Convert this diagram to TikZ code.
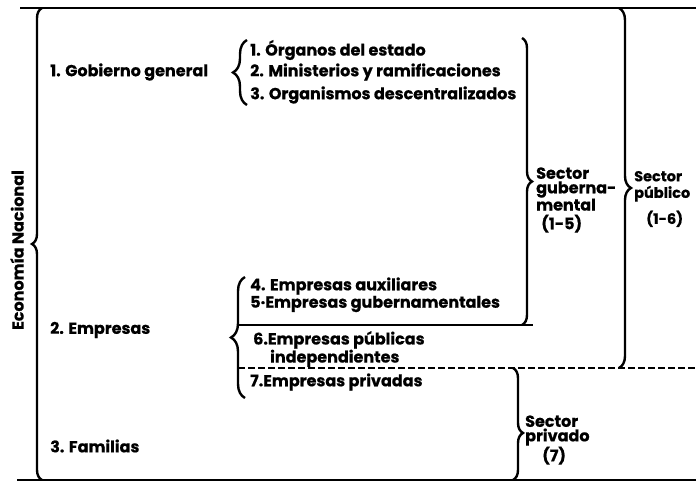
\documentclass[tikz,border=0pt]{standalone}
\usepackage{fontspec}
\setmainfont{Poppins}[BoldFeatures={FakeBold=0.6}]
\usetikzlibrary{decorations.pathreplacing}
\begin{document}
\begin{tikzpicture}[x=1pt,y=-1pt,
  lbl/.style={font=\bfseries\fontsize{16}{14.5}\selectfont, inner sep=0pt, anchor=west},
  brc/.style={decorate, decoration={brace, amplitude=#1}, line width=2.4pt},
  rule/.style={line width=2.6pt},
  dashrule/.style={line width=2.6pt, dash pattern=on 7pt off 3pt}]
\useasboundingbox (0,0) rectangle (696,482);
% frame lines
\coordinate (tl) at (20,8);   \coordinate (tr) at (696,8);
\coordinate (bl) at (17,480); \coordinate (br) at (696,480);
\draw[rule] (tl) -- (tr);
\draw[rule] (bl) -- (br);
% Economia nacional
\coordinate (lbB) at (42,480); \coordinate (lbT) at (42,8);
\draw[brc=10] (lbB) -- (lbT);
\node[lbl, anchor=center, rotate=90] (eco) at (17,250) {Economía Nacional};
% Gobierno general
\node[lbl] (gob) at (50,72) {1. Gobierno general};
\coordinate (gbB) at (247,105); \coordinate (gbT) at (247,40);
\draw[brc=14] (gbB) -- (gbT);
\node[lbl] (g1) at (250,50) {1. Órganos del estado};
\node[lbl] (g2) at (250,72) {2. Ministerios y ramificaciones};
\node[lbl] (g3) at (250,95) {3. Organismos descentralizados};
% Empresas
\node[lbl] (emp) at (50,330) {2. Empresas};
\coordinate (ebB) at (245,398); \coordinate (ebT) at (245,277);
\draw[brc=14] (ebB) -- (ebT);
\node[lbl] (e4) at (250,286) {4. Empresas auxiliares};
\node[lbl] (e5) at (250,304) {5·Empresas gubernamentales};
\node[lbl, align=left] (e6) at (253,349) {6.Empresas públicas\\\hspace*{17pt}independientes};
\node[lbl] (e7) at (250,382) {7.Empresas privadas};
\coordinate (solA) at (238,325); \coordinate (solB) at (533,325);
\draw[rule] (solA) -- (solB);
\coordinate (dasA) at (238,368); \coordinate (dasB) at (696,368);
\draw[dashrule] (dasA) -- (dasB);
% Familias
\node[lbl] (fam) at (50,446) {3. Familias};
% Sector gubernamental
\coordinate (sgT) at (522,38); \coordinate (sgB) at (522,325);
\draw[brc=10] (sgT) -- (sgB);
\node[lbl, align=left] (sg) at (536,200) {Sector\\guberna-\\mental\\[3pt]\hspace*{5pt}(1-5)};
% Sector publico
\coordinate (spT) at (619,8); \coordinate (spB) at (619,368);
\draw[brc=12] (spT) -- (spB);
\node[lbl, align=left, font=\bfseries\fontsize{14.5}{14.5}\selectfont] (sp) at (634,199) {Sector\\[2pt]público\\[8pt]\hspace*{12pt}(1-6)};
% Sector privado
\coordinate (prT) at (513,368); \coordinate (prB) at (513,480);
\draw[brc=10, decoration={aspect=0.58}] (prT) -- (prB);
\node[lbl, align=left] (pr) at (525,440) {Sector\\privado\\\hspace*{17pt}(7)};
\end{tikzpicture}
\end{document}
